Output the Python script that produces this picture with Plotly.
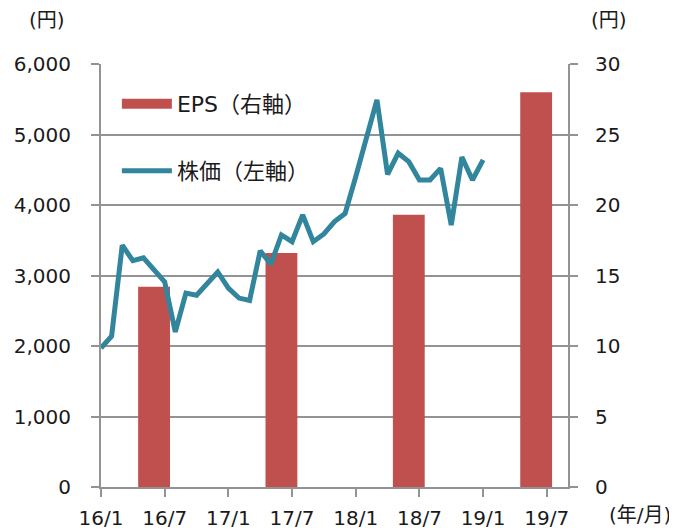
import plotly.graph_objects as go

# ---- data ----
price_months = [f"{y}/{m}" for y in (16, 17, 18) for m in range(1, 13)] + ["19/1"]
price = [1970, 2140, 3430, 3210, 3250, 3090, 2910, 2200, 2750, 2720, 2875, 3050,
         2820, 2680, 2645, 3350, 3160, 3575, 3480, 3860, 3480, 3590, 3765, 3880,
         4400, 4920, 5490, 4435, 4735, 4615, 4355, 4355, 4520, 3715, 4680, 4355,
         4640]
eps_months = ["16/6", "17/6", "18/6", "19/6"]
eps = [14.2, 16.6, 19.3, 28.0]
tick_labels = ["16/1", "16/7", "17/1", "17/7", "18/1", "18/7", "19/1", "19/7"]


def month_index(label):
    y, m = label.split("/")
    return (int(y) - 16) * 12 + int(m) - 1


FONT = "DejaVu Sans, Noto Sans CJK JP, sans-serif"
GRID = "#939393"
BAR_COLOR = "#C0504D"
LINE_COLOR = "#31859C"
FS = 20

fig = go.Figure()
fig.add_trace(go.Bar(
    x=[month_index(m) for m in eps_months], y=eps, width=3,
    marker=dict(color=BAR_COLOR, line=dict(width=0)),
    name="EPS（右軸）", yaxis="y", showlegend=False,
))
# legend entry for the bars (wide swatch like the original)
fig.add_trace(go.Scatter(
    x=[None], y=[None], mode="lines", line=dict(color=BAR_COLOR, width=15),
    name="EPS（右軸）", yaxis="y", legend="legend",
))
fig.add_trace(go.Scatter(
    x=[month_index(m) for m in price_months], y=price, mode="lines",
    line=dict(color=LINE_COLOR, width=5),
    name="株価（左軸）", yaxis="y2", legend="legend2",
))

axis_common = dict(
    zeroline=False, showline=True, linecolor=GRID, linewidth=2,
    ticks="outside", ticklen=8, tickwidth=2, tickcolor=GRID, automargin=False,
)

fig.update_layout(
    width=669, height=523,
    margin=dict(l=93, r=109, t=56, b=44),
    paper_bgcolor="white", plot_bgcolor="white",
    font=dict(family=FONT, size=FS, color="#1a1a1a"),
    xaxis=dict(
        range=[0, 44], tickvals=[month_index(t) for t in tick_labels], ticktext=tick_labels,
        showgrid=False, ticklabelstandoff=4, **axis_common,
    ),
    yaxis=dict(
        side="right", range=[0, 30], dtick=5, showgrid=True, gridcolor=GRID, gridwidth=2,
        ticklabelstandoff=13, **axis_common,
    ),
    yaxis2=dict(
        side="left", overlaying="y", range=[0, 6000], dtick=1000, tickformat=",",
        showgrid=False, ticklabelstandoff=16, **axis_common,
    ),
    legend=dict(x=0.034, y=0.955, xanchor="left", yanchor="top", bgcolor="rgba(0,0,0,0)",
                itemwidth=50, font=dict(size=22)),
    legend2=dict(x=0.034, y=0.797, xanchor="left", yanchor="top", bgcolor="rgba(0,0,0,0)",
                 itemwidth=50, font=dict(size=22)),
    showlegend=True,
    annotations=[
        dict(text="(円)", xref="paper", yref="paper", x=-0.1156, y=1.0, yshift=44,
             xanchor="center", yanchor="middle", showarrow=False, font=dict(size=FS)),
        dict(text="(円)", xref="paper", yref="paper", x=1.0878, y=1.0, yshift=44,
             xanchor="center", yanchor="middle", showarrow=False, font=dict(size=FS)),
        dict(text="(年/月)", xref="paper", yref="paper", x=1.0, y=0, xshift=72, yshift=-28,
             xanchor="center", yanchor="middle", showarrow=False, font=dict(size=FS)),
    ],
)

fig.write_html("out.html")
